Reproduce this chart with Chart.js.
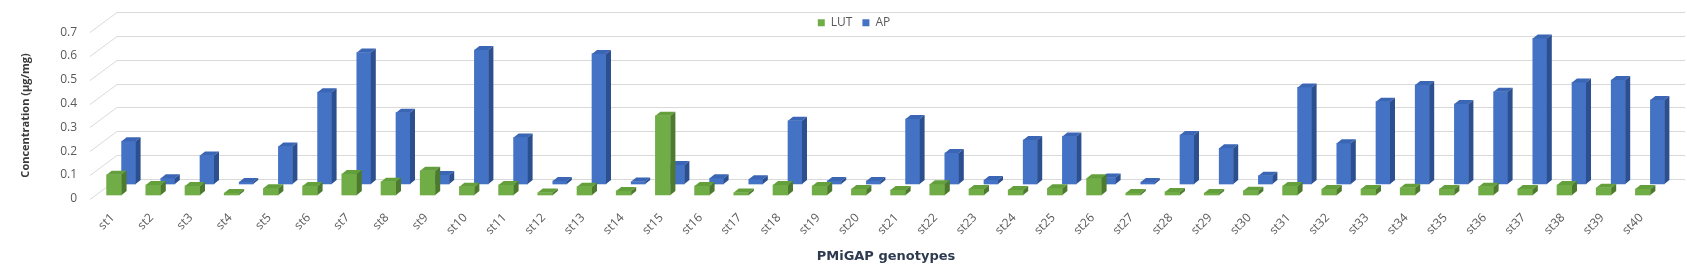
<!DOCTYPE html>
<html>
<head>
<meta charset="utf-8">
<script src="https://cdn.jsdelivr.net/npm/chart.js@4"></script>
<style>
  body { margin: 0; background: #fff; }
  #wrap { width: 1687px; height: 267px; }
</style>
</head>
<body>
<div id="wrap"><canvas id="chart"></canvas></div>
<script>
const genotypes = [];
for (let i = 1; i <= 40; i++) genotypes.push("st" + i);

const lutValues = [0.085, 0.042, 0.038, 0.008, 0.028, 0.038, 0.088, 0.056, 0.102, 0.035,
                   0.042, 0.010, 0.035, 0.017, 0.333, 0.038, 0.010, 0.042, 0.038, 0.025,
                   0.021, 0.045, 0.025, 0.021, 0.028, 0.070, 0.008, 0.013, 0.008, 0.018,
                   0.038, 0.025, 0.025, 0.030, 0.025, 0.035, 0.025, 0.042, 0.030, 0.025];
const apValues = [0.180, 0.024, 0.120, 0.008, 0.158, 0.386, 0.553, 0.300, 0.038, 0.563,
                  0.196, 0.013, 0.547, 0.010, 0.080, 0.024, 0.020, 0.266, 0.013, 0.013,
                  0.273, 0.130, 0.017, 0.185, 0.200, 0.027, 0.008, 0.206, 0.150, 0.035,
                  0.406, 0.171, 0.346, 0.416, 0.336, 0.388, 0.612, 0.427, 0.437, 0.353];

// 3D look: each series row sits a bit behind the front plane
const rowLift = [3.7, 14.7];          // px up for LUT row, AP row
const DX = 5, DY = 4;                 // depth of a single bar
const faceColors = [
    { top: "#63a03c", side: "#4d7a2f" },   // LUT
    { top: "#3b66b6", side: "#2c4f8f" }    // AP
];

const bars3d = {
    id: "bars3d",
    beforeDatasetsDraw(chart) {
        // back wall gridlines with the diagonal going to the front labels
        const { ctx, chartArea, scales: { y } } = chart;
        ctx.save();
        ctx.strokeStyle = "#d9d9d9";
        ctx.lineWidth = 1;
        y.ticks.forEach(t => {
            const py = Math.round(y.getPixelForValue(t.value)) + 0.5;
            ctx.beginPath();
            ctx.moveTo(chartArea.left - 12, py);
            ctx.lineTo(chartArea.left + 15, py - 20);
            ctx.lineTo(chartArea.right + 15, py - 20);
            ctx.stroke();
        });
        ctx.restore();
    },
    beforeDatasetDraw(chart, args) {
        chart.ctx.save();
        chart.ctx.translate(0, -rowLift[args.index]);
    },
    afterDatasetDraw(chart, args) {
        const ctx = chart.ctx;
        const col = faceColors[args.index];
        args.meta.data.forEach(bar => {
            const { x, y, base, width } = bar.getProps(["x", "y", "base", "width"], true);
            const x0 = x - width / 2, x1 = x + width / 2;
            ctx.fillStyle = col.top;
            ctx.beginPath();
            ctx.moveTo(x0, y);
            ctx.lineTo(x0 + DX, y - DY);
            ctx.lineTo(x1 + DX, y - DY);
            ctx.lineTo(x1, y);
            ctx.closePath();
            ctx.fill();
            ctx.fillStyle = col.side;
            ctx.beginPath();
            ctx.moveTo(x1, y);
            ctx.lineTo(x1 + DX, y - DY);
            ctx.lineTo(x1 + DX, base - DY);
            ctx.lineTo(x1, base);
            ctx.closePath();
            ctx.fill();
        });
        ctx.restore();
    },
    afterLayout(chart) {
        // legend sits a little right of the page centre
        chart.legend.left += 19;
        chart.legend.right += 19;
    }
};

const ctx = document.getElementById("chart").getContext("2d");
new Chart(ctx, {
    type: "bar",
    data: {
        labels: genotypes,
        datasets: [
            { label: "LUT", data: lutValues, backgroundColor: "#70ad47", borderWidth: 0, barThickness: 15, clip: false },
            { label: "AP", data: apValues, backgroundColor: "#4472c4", borderWidth: 0, barThickness: 14, clip: false }
        ]
    },
    options: {
        responsive: true,
        maintainAspectRatio: false,
        animation: false,
        layout: { padding: { top: 6.5, right: 17, left: 0, bottom: 0 } },
        plugins: {
            tooltip: { enabled: false },
            legend: {
                position: "top",
                maxHeight: 25.5,
                labels: {
                    boxWidth: 7,
                    boxHeight: 7,
                    padding: 10,
                    color: "#595959",
                    font: { family: "Open Sans", size: 12 }
                }
            }
        },
        scales: {
            x: {
                grid: { display: false, drawTicks: false },
                border: { display: false },
                ticks: {
                    autoSkip: false,
                    minRotation: 45,
                    maxRotation: 45,
                    padding: 12,
                    labelOffset: -9,
                    color: "#595959",
                    font: { family: "Open Sans", size: 12 }
                },
                title: {
                    display: true,
                    text: "PMiGAP genotypes",
                    color: "#2d3a4f",
                    padding: { top: 0, bottom: 3 },
                    font: { family: "DejaVu Sans", size: 13, weight: "bold" }
                },
                afterFit: s => { s.height = 68.3; }
            },
            y: {
                min: 0,
                max: 0.7,
                grid: { display: false, drawTicks: false },
                border: { display: false },
                ticks: {
                    stepSize: 0.1,
                    padding: 25,
                    color: "#595959",
                    font: { family: "Open Sans", size: 12 }
                },
                title: {
                    display: true,
                    text: "Concentration (µg/mg)",
                    color: "#3a3a3a",
                    padding: { top: 19, bottom: 0 },
                    font: { family: "Open Sans", size: 11, weight: "bold" }
                },
                afterFit: s => { s.width = 102; }
            }
        }
    },
    plugins: [bars3d]
});
</script>
</body>
</html>
